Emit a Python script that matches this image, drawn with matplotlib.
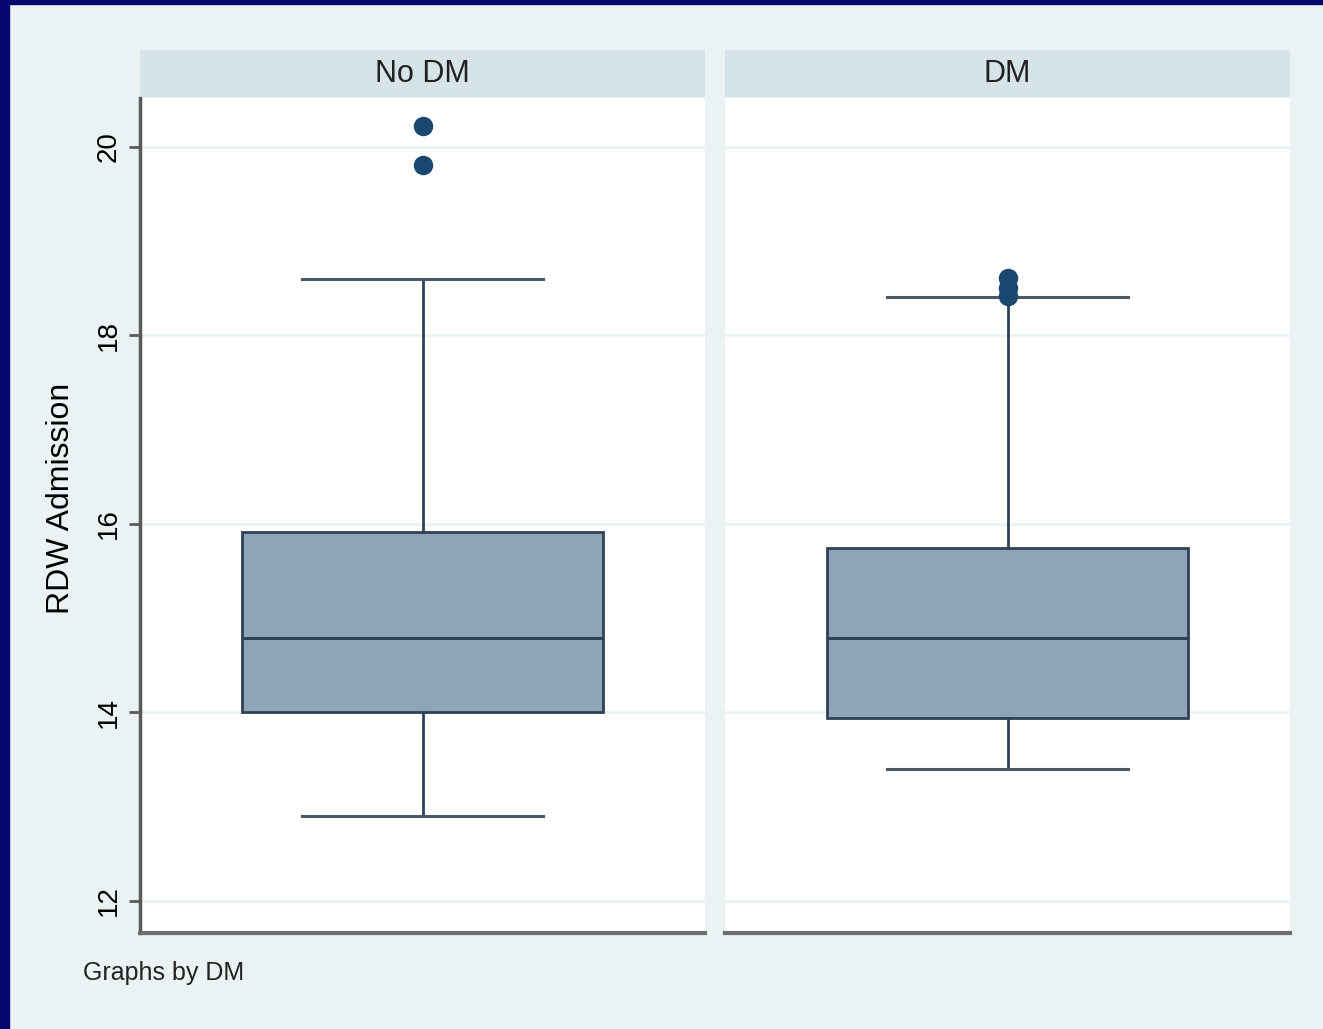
import matplotlib
matplotlib.use("Agg")
import matplotlib.pyplot as plt
from matplotlib.patches import Rectangle

plt.rcParams['font.family'] = ['Liberation Sans', 'DejaVu Sans']

groups = ["No DM", "DM"]
q1 = [14.00, 13.94]
median = [14.79, 14.79]
q3 = [15.91, 15.74]
whisker_low = [12.90, 13.40]
whisker_high = [18.60, 18.41]
outliers = [[19.81, 20.22], [18.42, 18.50, 18.61]]
yticks = [12, 14, 16, 18, 20]

bg = "#EAF2F3"
strip = "#D6E3E8"
box_fill = "#8FA4B7"
box_edge = "#2E4257"
out_col = "#1A476F"

fig = plt.figure(figsize=(13.23, 10.29), dpi=100)
fig.patch.set_facecolor(bg)
# navy frame
fig.add_artist(Rectangle((0, 0), 9/1323, 1, transform=fig.transFigure, color="#06066E", zorder=10))
fig.add_artist(Rectangle((0, 1-4/1029), 1, 4/1029, transform=fig.transFigure, color="#06066E", zorder=10))

lefts = [140/1323, 725/1323]
width = 565/1323
bottom = 1 - 933/1029
height = (933-98)/1029
for i, g in enumerate(groups):
    ax = fig.add_axes([lefts[i], bottom, width, height])
    ax.set_facecolor("white")
    stats = [dict(med=median[i], q1=q1[i], q3=q3[i], whislo=whisker_low[i],
                  whishi=whisker_high[i], fliers=outliers[i])]
    ax.bxp(stats, positions=[0], widths=0.64, capwidths=0.425, patch_artist=True,
           showcaps=True,
           boxprops=dict(facecolor=box_fill, edgecolor=box_edge, linewidth=2),
           medianprops=dict(color=box_edge, linewidth=2.2),
           whiskerprops=dict(color=box_edge, linewidth=2),
           capprops=dict(color="#4A5866", linewidth=2.2),
           flierprops=dict(marker='o', markerfacecolor=out_col, markeredgecolor=out_col,
                           markersize=13))
    ax.set_xlim(-0.5, 0.5)
    ax.set_ylim(11.66, 20.52)
    ax.set_yticks(yticks)
    ax.grid(axis='y', color=bg, linewidth=2)
    ax.set_axisbelow(True)
    ax.set_xticks([])
    for s in ["top", "right"]:
        ax.spines[s].set_visible(False)
    ax.spines["bottom"].set_color("#6E6E6E")
    ax.spines["bottom"].set_linewidth(3)
    if i == 0:
        ax.spines["left"].set_color("#5A5A5A")
        ax.spines["left"].set_linewidth(2.5)
        ax.tick_params(axis='y', length=8, width=2, color="#5A5A5A", labelsize=20,
                       labelrotation=90, pad=5)
        for lab in ax.get_yticklabels():
            lab.set_va('center')
        ax.set_ylabel("RDW Admission", fontsize=23)
        ax.yaxis.set_label_coords(-0.113, 0.52)
    else:
        ax.spines["left"].set_visible(False)
        ax.tick_params(axis='y', left=False, labelleft=False)
    # strip header
    sax = fig.add_axes([lefts[i], 1 - 97/1029, width, 47/1029])
    sax.set_facecolor(strip)
    sax.set_xticks([]); sax.set_yticks([])
    for s in sax.spines.values():
        s.set_visible(False)
    sax.text(0.5, 0.5, g, ha='center', va='center', fontsize=22, color="#222222",
             transform=sax.transAxes)

fig.text(83/1323, 1 - 973/1029, "Graphs by DM", fontsize=18, va='center', ha='left', color="#222222")

fig.savefig("out.png", dpi=100, facecolor=fig.get_facecolor())
